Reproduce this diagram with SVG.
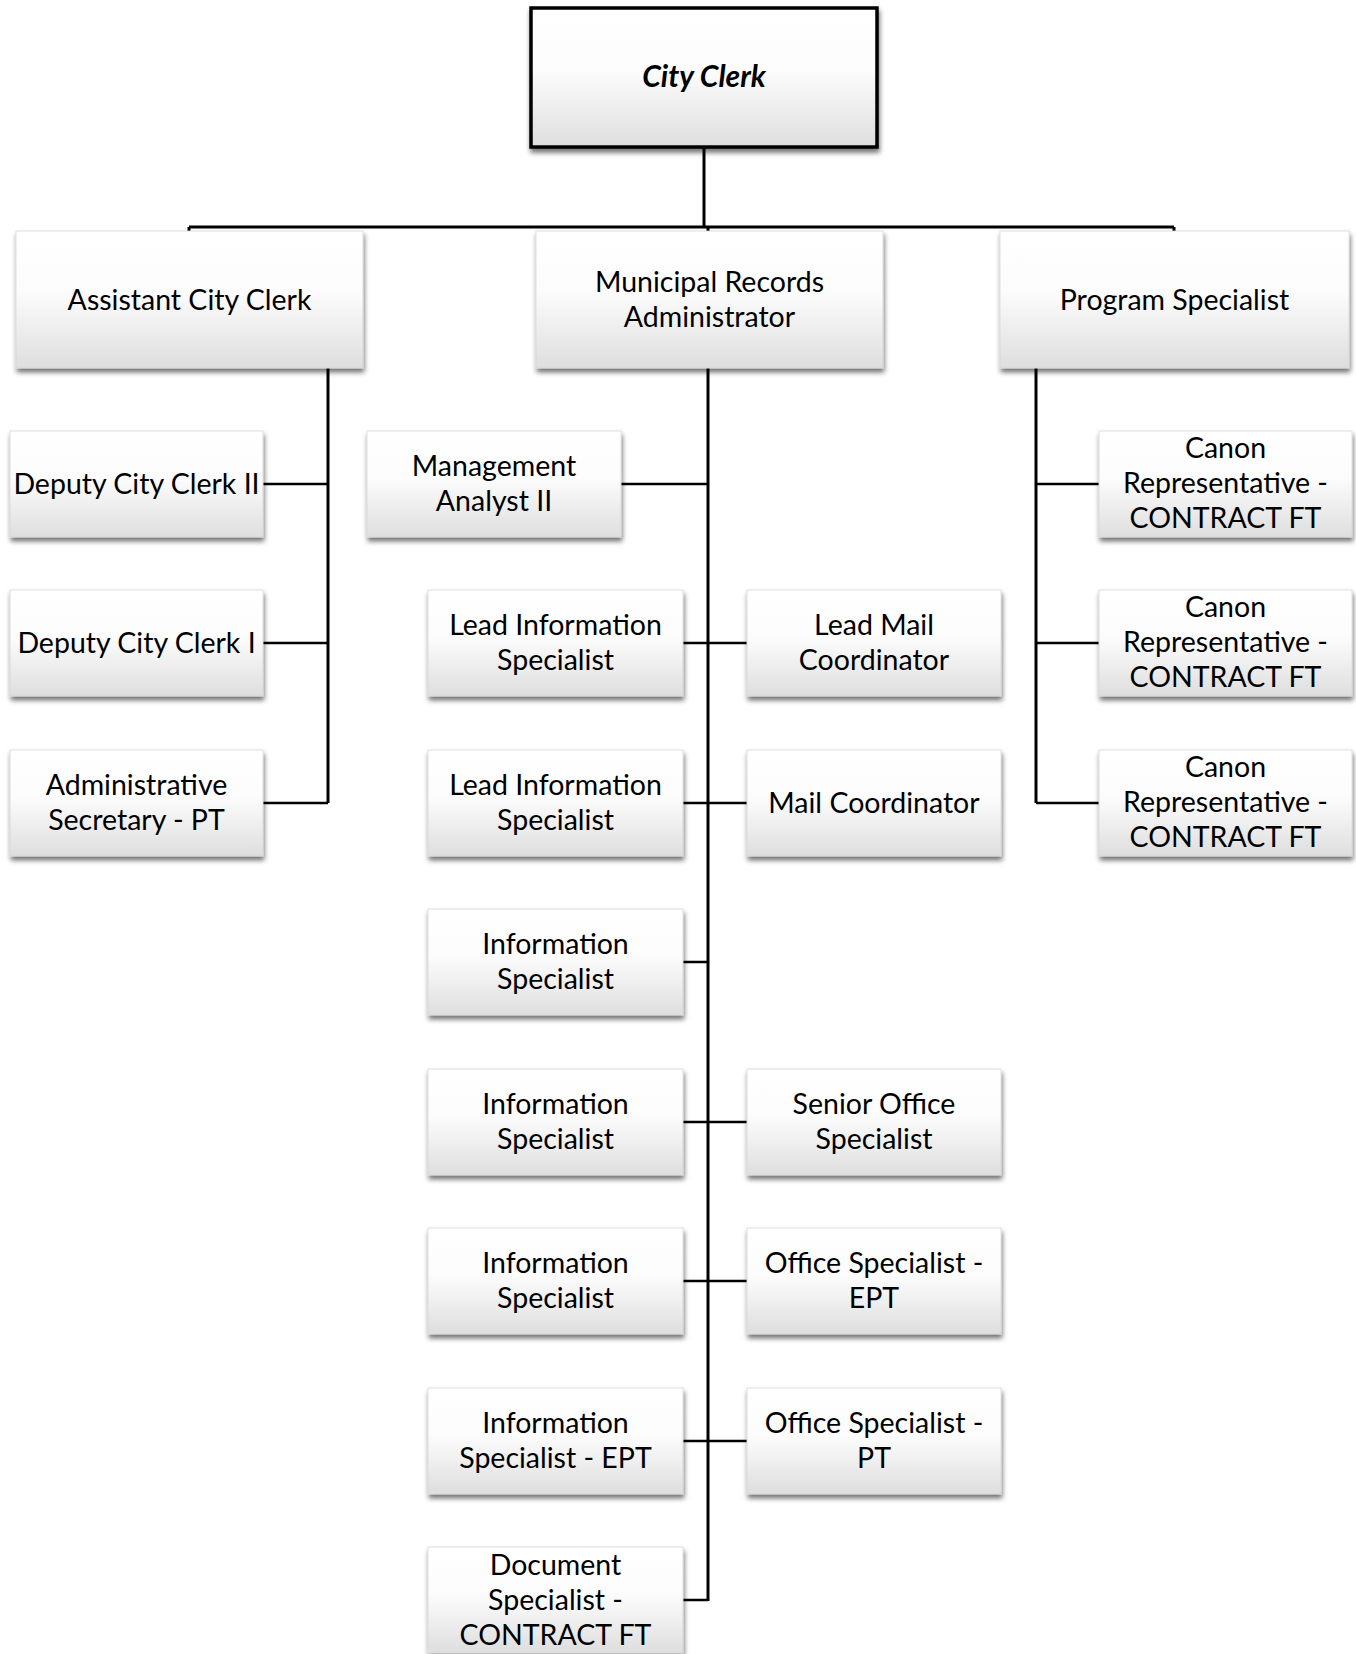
<svg xmlns="http://www.w3.org/2000/svg" width="1356" height="1654" viewBox="0 0 1356 1654">
<style>
.box{fill:url(#g);stroke:#d6d6d6;stroke-width:0.8;filter:url(#sh)}
.top{fill:url(#g);stroke:#000;stroke-width:3.5;filter:url(#sh)}
text{font-family:Lato,"Open Sans","Liberation Sans",sans-serif;font-size:28.5px;fill:#000;text-anchor:middle}
.cc{font-weight:bold;font-style:italic;font-size:30px}
.c{fill:none;stroke:#000;stroke-width:3}
.b{fill:none;stroke:#000;stroke-width:2.5}
</style>
<defs>
<linearGradient id="g" x1="0" y1="0" x2="0" y2="1">
<stop offset="0" stop-color="#ffffff"/>
<stop offset="0.45" stop-color="#fcfcfc"/>
<stop offset="1" stop-color="#dedede"/>
</linearGradient>
<filter id="sh" x="-10%" y="-10%" width="130%" height="140%">
<feDropShadow dx="1" dy="4" stdDeviation="2.5" flood-color="#000" flood-opacity="0.55"/>
</filter>
</defs>
<rect width="1356" height="1654" fill="#fff"/>
<g id="connectors">
<path class="c" d="M704 147V227M189 227H1174M189 227V232M1174 227V232M708 227V232"/>
<path class="c" d="M328 368V803M708 368V1601M1036 368V803"/>
<path class="b" d="M263 484H328M263 643H328M263 803H328"/>
<path class="b" d="M621 484H708M683 643H747M683 803H747M683 962H708M683 1122H747M683 1281H747M683 1441H747M683 1600H708"/>
<path class="b" d="M1036 484H1099M1036 643H1099M1036 803H1099"/>
</g>
<g id="city-clerk"><rect class="top" x="531" y="8" width="346" height="139"/><text class="cc" x="704" y="87">City Clerk</text></g>
<g id="assistant-city-clerk"><rect class="box" x="16" y="231" width="347" height="137"/><text x="189.5" y="310">Assistant City Clerk</text></g>
<g id="municipal-records-administrator"><rect class="box" x="536" y="231" width="347" height="137"/><text x="709.5" y="292">Municipal Records</text><text x="709.5" y="327">Administrator</text></g>
<g id="program-specialist"><rect class="box" x="1000" y="231" width="349" height="137"/><text x="1174.5" y="310">Program Specialist</text></g>

<g id="deputy-city-clerk-ii"><rect class="box" x="10" y="431" width="253" height="106"/><text x="136.5" y="494">Deputy City Clerk II</text></g>
<g id="deputy-city-clerk-i"><rect class="box" x="10" y="590" width="253" height="106"/><text x="136.5" y="653">Deputy City Clerk I</text></g>
<g id="administrative-secretary"><rect class="box" x="10" y="750" width="253" height="106"/><text x="136.5" y="795">Administrative</text><text x="136.5" y="830">Secretary - PT</text></g>

<g id="management-analyst"><rect class="box" x="367" y="431" width="254" height="106"/><text x="494" y="476">Management</text><text x="494" y="511">Analyst II</text></g>

<g id="lead-info-1"><rect class="box" x="428" y="590" width="255" height="106"/><text x="555.5" y="635">Lead Information</text><text x="555.5" y="670">Specialist</text></g>
<g id="lead-info-2"><rect class="box" x="428" y="750" width="255" height="106"/><text x="555.5" y="795">Lead Information</text><text x="555.5" y="830">Specialist</text></g>
<g id="info-1"><rect class="box" x="428" y="909" width="255" height="106"/><text x="555.5" y="954">Information</text><text x="555.5" y="989">Specialist</text></g>
<g id="info-2"><rect class="box" x="428" y="1069" width="255" height="106"/><text x="555.5" y="1114">Information</text><text x="555.5" y="1149">Specialist</text></g>
<g id="info-3"><rect class="box" x="428" y="1228" width="255" height="106"/><text x="555.5" y="1273">Information</text><text x="555.5" y="1308">Specialist</text></g>
<g id="info-ept"><rect class="box" x="428" y="1388" width="255" height="106"/><text x="555.5" y="1433">Information</text><text x="555.5" y="1468">Specialist - EPT</text></g>
<g id="document-specialist"><rect class="box" x="428" y="1547" width="255" height="106"/><text x="555.5" y="1575">Document</text><text x="555.5" y="1610">Specialist -</text><text x="555.5" y="1645">CONTRACT FT</text></g>

<g id="lead-mail-coordinator"><rect class="box" x="747" y="590" width="254" height="106"/><text x="874" y="635">Lead Mail</text><text x="874" y="670">Coordinator</text></g>
<g id="mail-coordinator"><rect class="box" x="747" y="750" width="254" height="106"/><text x="874" y="813">Mail Coordinator</text></g>
<g id="senior-office-specialist"><rect class="box" x="747" y="1069" width="254" height="106"/><text x="874" y="1114">Senior Office</text><text x="874" y="1149">Specialist</text></g>
<g id="office-specialist-ept"><rect class="box" x="747" y="1228" width="254" height="106"/><text x="874" y="1273">Office Specialist -</text><text x="874" y="1308">EPT</text></g>
<g id="office-specialist-pt"><rect class="box" x="747" y="1388" width="254" height="106"/><text x="874" y="1433">Office Specialist -</text><text x="874" y="1468">PT</text></g>

<g id="canon-1"><rect class="box" x="1099" y="431" width="253" height="106"/><text x="1225.5" y="458">Canon</text><text x="1225.5" y="493">Representative -</text><text x="1225.5" y="528">CONTRACT FT</text></g>
<g id="canon-2"><rect class="box" x="1099" y="590" width="253" height="106"/><text x="1225.5" y="617">Canon</text><text x="1225.5" y="652">Representative -</text><text x="1225.5" y="687">CONTRACT FT</text></g>
<g id="canon-3"><rect class="box" x="1099" y="750" width="253" height="106"/><text x="1225.5" y="777">Canon</text><text x="1225.5" y="812">Representative -</text><text x="1225.5" y="847">CONTRACT FT</text></g>
</svg>
